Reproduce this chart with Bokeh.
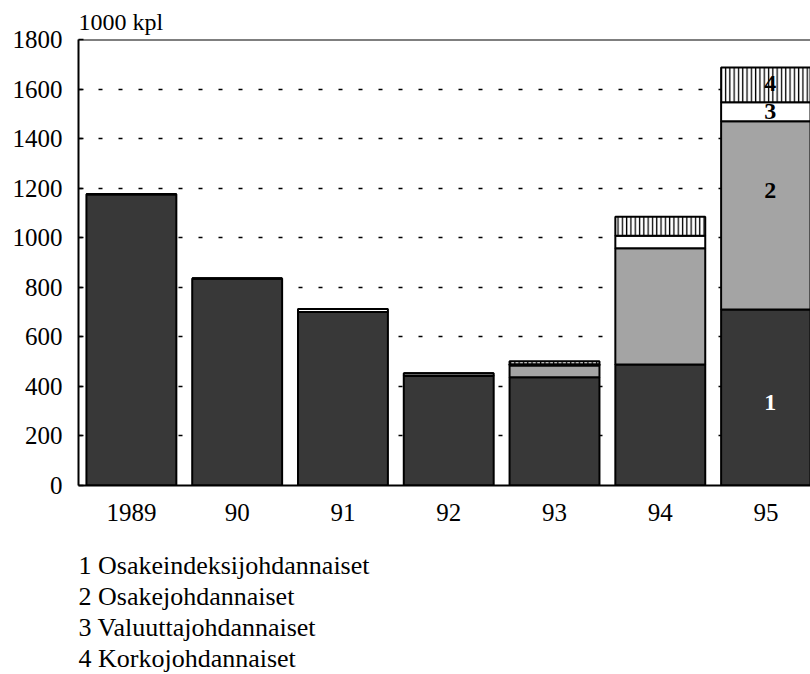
from bokeh.plotting import figure
from bokeh.models import Range1d, FixedTicker, Span, Label, ColumnDataSource, Title
from bokeh.embed import file_html
from bokeh.resources import INLINE

# ---- data ----
years = ["1989", "90", "91", "92", "93", "94", "95"]
s1 = [1175, 835, 700, 443, 437, 488, 710]   # Osakeindeksijohdannaiset
s2 = [0, 0, 0, 0, 47, 470, 760]             # Osakejohdannaiset
s3 = [0, 0, 12, 10, 5, 50, 77]              # Valuuttajohdannaiset
s4 = [0, 0, 0, 0, 12, 77, 140]              # Korkojohdannaiset
series_tags = ["1", "2", "3", "4"]
series_names = ["1 Osakeindeksijohdannaiset", "2 Osakejohdannaiset",
                "3 Valuuttajohdannaiset", "4 Korkojohdannaiset"]
y_ticks = [0, 200, 400, 600, 800, 1000, 1200, 1400, 1600, 1800]
unit_label = "1000 kpl"

# ---- styling ----
FONT = "Liberation Serif, Times New Roman, serif"
fills = ["#383838", "#a4a4a4", "white", "white"]
hatches = [" ", " ", " ", "|"]
tag_colors = ["white", "black", "black", "black"]
tag_frac = [0.47, 0.63, 0.5, 0.55]

xs = list(range(len(years)))
src = ColumnDataSource(dict(x=xs, s1=s1, s2=s2, s3=s3, s4=s4))

W, H = 810, 674
TOP, LEFT, FRAME_H = 39, 78, 446
y_max = y_ticks[-1]

p = figure(width=W, height=H, output_backend="svg", toolbar_location=None,
           x_range=Range1d(-0.5, 6.42), y_range=Range1d(0, y_max),
           min_border_left=LEFT, min_border_right=0, min_border_top=TOP,
           min_border_bottom=H - TOP - FRAME_H)
p.outline_line_color = None
p.background_fill_color = "white"
p.border_fill_color = "white"

p.vbar_stack(["s1", "s2", "s3", "s4"], x="x", width=0.85, source=src,
             fill_color=fills, line_color="black", line_width=2,
             hatch_pattern=hatches, hatch_color="black", hatch_scale=4.3,
             hatch_weight=1.3)

p.add_layout(Span(location=y_max, dimension="width", line_color="black", line_width=2))

# axes
p.yaxis.ticker = FixedTicker(ticks=y_ticks)
p.yaxis.major_tick_in = 5
p.yaxis.major_tick_out = 0
p.yaxis.minor_tick_line_color = None
p.yaxis.major_label_standoff = 16
p.yaxis.axis_line_width = 2
p.yaxis.major_tick_line_width = 1.5
p.yaxis.major_label_text_font = FONT
p.yaxis.major_label_text_font_size = "25px"
p.yaxis.major_label_text_color = "black"

p.xaxis.ticker = FixedTicker(ticks=xs)
p.xaxis.major_label_overrides = {i: y for i, y in zip(xs, years)}
p.xaxis.major_tick_line_color = None
p.xaxis.minor_tick_line_color = None
p.xaxis.major_label_standoff = 12
p.xaxis.axis_line_width = 2
p.xaxis.major_label_text_font = FONT
p.xaxis.major_label_text_font_size = "25px"
p.xaxis.major_label_text_color = "black"

p.xgrid.visible = False
p.ygrid.ticker = FixedTicker(ticks=y_ticks[1:-1])
p.ygrid.grid_line_color = "black"
p.ygrid.grid_line_dash = "4 16"
p.ygrid.grid_line_width = 1.5

# unit label above the frame
p.add_layout(Title(text=unit_label, align="left", offset=0, standoff=9,
                   text_font=FONT, text_font_size="24px",
                   text_font_style="normal", text_color="black"), "above")

# segment tags on the last bar
stack = [s1, s2, s3, s4]
base = 0
for i, tag in enumerate(series_tags):
    v = stack[i][-1]
    p.add_layout(Label(x=xs[-1] + 0.04, y=base + tag_frac[i] * v, text=tag,
                       text_align="center", text_baseline="middle",
                       text_font=FONT, text_font_style="bold",
                       text_font_size="24px", text_color=tag_colors[i]))
    base += v

# spacer between the axis labels and the legend text
p.add_layout(Title(text=" ", text_font_size="1px", standoff=22), "below")

# legend text below the chart
for name in series_names:
    p.add_layout(Title(text=name, align="left", offset=0, standoff=0,
                       text_font=FONT, text_font_size="26px",
                       text_font_style="normal", text_color="black"), "below")

open("out.html", "w").write(file_html(p, INLINE))
